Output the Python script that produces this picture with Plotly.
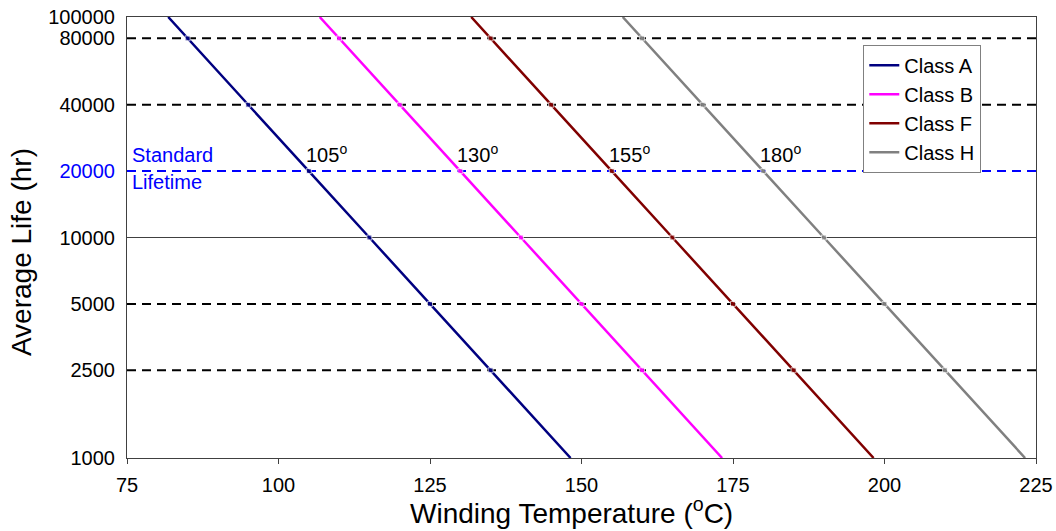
import math
import plotly.graph_objects as go

# Data
life_hr = [100000, 80000, 40000, 20000, 10000, 5000, 2500, 1000]
temp_a = [81.8, 85, 95, 105, 115, 125, 135, 148.2]
temp_b = [106.8, 110, 120, 130, 140, 150, 160, 173.2]
temp_f = [131.8, 135, 145, 155, 165, 175, 185, 198.2]
temp_h = [156.8, 160, 170, 180, 190, 200, 210, 223.2]
marker_sizes = [0, 5, 5, 5, 5, 5, 5, 0]

class_names = ["Class A", "Class B", "Class F", "Class H"]
class_colors = ["#000080", "#FF00FF", "#800000", "#808080"]
rated_temps = [105, 130, 155, 180]
rated_labels = ["105<sup>o</sup>", "130<sup>o</sup>", "155<sup>o</sup>", "180<sup>o</sup>"]
standard_life = 20000

black_dashed_lives = [80000, 40000, 5000, 2500]
solid_life = 10000
x_range = [75, 225]

y_tickvals = [1000, 2500, 5000, 10000, 20000, 40000, 80000, 100000]
y_ticktext = ["1000", "2500", "5000", "10000", "<span style='color:#0000FF'>20000</span>",
              "40000", "80000", "100000"]
x_tickvals = [75, 100, 125, 150, 175, 200, 225]

FONT = "Liberation Sans, Arial, sans-serif"
FS = 20
TITLE_FS = 28

fig = go.Figure()

# Reference grid lines
for v in black_dashed_lives:
    fig.add_trace(go.Scatter(x=x_range, y=[v, v], mode="lines",
                             line=dict(color="black", width=2, dash="9px,6px"),
                             showlegend=False, hoverinfo="skip"))
fig.add_trace(go.Scatter(x=x_range, y=[solid_life, solid_life], mode="lines",
                         line=dict(color="#404040", width=1),
                         showlegend=False, hoverinfo="skip"))
fig.add_trace(go.Scatter(x=x_range, y=[standard_life, standard_life], mode="lines",
                         line=dict(color="#0000FF", width=2, dash="9px,6px"),
                         showlegend=False, hoverinfo="skip"))

# Class curves
for name, color, temps in zip(class_names, class_colors, [temp_a, temp_b, temp_f, temp_h]):
    fig.add_trace(go.Scatter(x=temps, y=life_hr, mode="lines", name=name,
                             line=dict(color=color, width=2.5)))
    fig.add_trace(go.Scatter(x=temps, y=life_hr, mode="markers", showlegend=False,
                             marker=dict(color=color, size=marker_sizes, symbol="square"),
                             hoverinfo="skip"))

log_std = math.log10(standard_life)

# Rated temperature labels
for t, lbl in zip(rated_temps, rated_labels):
    fig.add_annotation(x=t, y=log_std, xref="x", yref="y", text=lbl, showarrow=False,
                       xanchor="left", yanchor="bottom", xshift=-5, yshift=3,
                       font=dict(family=FONT, size=FS, color="black"))

# Standard Lifetime label
fig.add_annotation(x=x_range[0], y=log_std, xref="x", yref="y", text="Standard",
                   showarrow=False, xanchor="left", yanchor="bottom", xshift=3, yshift=3,
                   font=dict(family=FONT, size=FS, color="#0000FF"))
fig.add_annotation(x=x_range[0], y=log_std, xref="x", yref="y", text="Lifetime",
                   showarrow=False, xanchor="left", yanchor="top", xshift=3, yshift=2,
                   font=dict(family=FONT, size=FS, color="#0000FF"))

# Axis titles
fig.add_annotation(x=0.4895, y=-0.12, xref="paper", yref="paper",
                   text="Winding Temperature (<sup>o</sup>C)", showarrow=False,
                   xanchor="center", yanchor="middle",
                   font=dict(family=FONT, size=TITLE_FS, color="black"))
fig.add_annotation(x=-0.1166, y=0.467, xref="paper", yref="paper",
                   text="Average Life (hr)", showarrow=False, textangle=-90,
                   xanchor="center", yanchor="middle",
                   font=dict(family=FONT, size=TITLE_FS, color="black"))

fig.update_layout(
    width=1056, height=531,
    margin=dict(l=127, r=20, t=17, b=73, autoexpand=False),
    paper_bgcolor="white", plot_bgcolor="white",
    font=dict(family=FONT, size=FS, color="black"),
    legend=dict(x=0.81, y=0.937, xanchor="left", yanchor="top",
                bgcolor="white", bordercolor="#808080", borderwidth=1,
                font=dict(family=FONT, size=FS, color="black"),
                itemwidth=30),
    xaxis=dict(range=x_range, tickvals=x_tickvals, showgrid=False, zeroline=False,
               showline=True, linecolor="#404040", linewidth=1, mirror=True,
               ticks="outside", ticklen=5, tickcolor="#404040",
               ticklabelstandoff=4, automargin=False,
               tickfont=dict(family=FONT, size=FS)),
    yaxis=dict(type="log", range=[3, 5], tickvals=y_tickvals, ticktext=y_ticktext,
               showgrid=False, zeroline=False, automargin=False,
               showline=True, linecolor="#404040", linewidth=1, mirror=True,
               ticks="", ticklabelstandoff=7, tickfont=dict(family=FONT, size=FS)),
)

fig.write_html("out.html")
